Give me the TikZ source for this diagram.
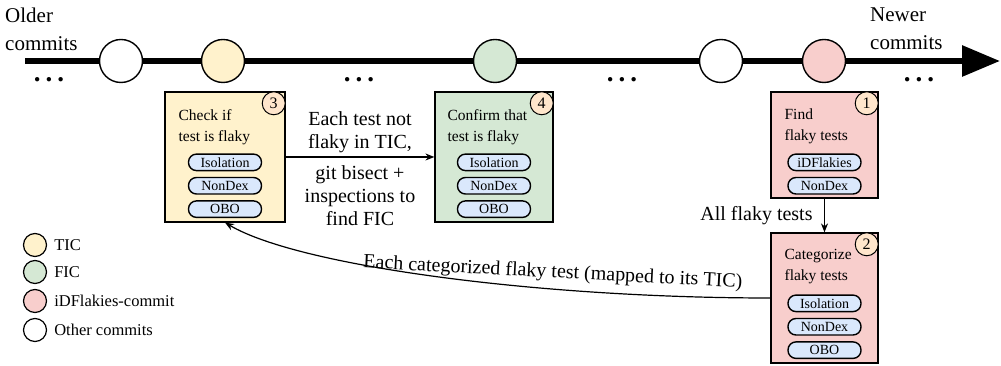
\documentclass[tikz,border=0pt]{standalone}
\usepackage{fontspec}
\setmainfont{Liberation Serif}
\usetikzlibrary{positioning}
\usetikzlibrary{arrows.meta}

\definecolor{ticfill}{HTML}{FFF2CC}
\definecolor{ficfill}{HTML}{D5E8D4}
\definecolor{idffill}{HTML}{F8CECC}
\definecolor{toolfill}{HTML}{DAE8FC}
\definecolor{numfill}{HTML}{FFE6CC}

\begin{document}
\begin{tikzpicture}[x=1pt,y=1pt]
\tikzstyle{commit}=[circle,draw=black,line width=1.4pt,minimum size=43pt,inner sep=0pt]
\tikzstyle{stepbox}=[rectangle,draw=black,line width=1.2pt,inner sep=0pt]
\tikzstyle{steptext}=[inner sep=0pt,align=left,font=\fontsize{15.5}{21}\selectfont]
\tikzstyle{tool}=[rectangle,rounded corners=8pt,draw=black,line width=1.4pt,fill=toolfill,minimum width=73pt,minimum height=16.5pt,inner sep=0pt,font=\fontsize{14}{14}\selectfont]
\tikzstyle{badge}=[circle,draw=black,line width=1pt,fill=numfill,minimum size=23pt,inner sep=0pt,font=\fontsize{16}{16}\selectfont]
\tikzstyle{flow}=[line width=1.2pt,-{Stealth[length=9pt,width=7pt]}]
\tikzstyle{biglabel}=[align=center,font=\fontsize{20}{23}\selectfont]
\tikzstyle{legend}=[circle,draw=black,line width=1.2pt,minimum size=23pt,inner sep=0pt]
\tikzstyle{legendtext}=[inner sep=7pt,font=\fontsize{16.5}{16.5}\selectfont]
\tikzstyle{dots}=[inner sep=0pt,font=\fontsize{27}{27}\selectfont\bfseries]

\useasboundingbox (0,0) rectangle (1001,366);
%%%%%%%%%%%%%%%%%%%%%%%%%%%%%%%%%%%%%%%%%%%%%%%%%%%%%%%%%%%%%%%%%%%%%%%%%%%%%%%%%%%%%%%%
%% Draw commit history
%%%%%%%%%%%%%%%%%%%%%%%%%%%%%%%%%%%%%%%%%%%%%%%%%%%%%%%%%%%%%%%%%%%%%%%%%%%%%%%%%%%%%%%%
% time line
\coordinate (tstart) at (25,305);
\coordinate (tend) at (1000,305);
\draw[line width=6pt,-{Triangle[length=38pt,width=30pt]}] (tstart) -- (tend);

\node[anchor=north west,align=left,inner sep=0pt,font=\fontsize{21}{28}\selectfont] (older) at (5,358) {Older\\commits};
\node[anchor=north west,align=left,inner sep=0pt,font=\fontsize{21}{28}\selectfont] (newer) at (870,358) {Newer\\commits};

% commits
\node[commit,fill=white] (oth1) at (121,305) {};
\node[commit,fill=ticfill] (ticc) at (223,305) {};
\node[commit,fill=ficfill] (ficc) at (495,305) {};
\node[commit,fill=white] (oth2) at (721,305) {};
\node[commit,fill=idffill] (idfc) at (824,305) {};

\node[dots] (dots1) at (49,286) {.\kern5pt.\kern5pt.};
\node[dots] (dots2) at (359,286) {.\kern5pt.\kern5pt.};
\node[dots] (dots3) at (622,286) {.\kern5pt.\kern5pt.};
\node[dots] (dots4) at (919,286) {.\kern5pt.\kern5pt.};
%%%%%%%%%%%%%%%%%%%%%%%%%%%%%%%%%%%%%%%%%%%%%%%%%%%%%%%%%%%%%%%%%%%%%%%%%%%%%%%%%%%%%%%%

%%%%%%%%%%%%%%%%%%%%%%%%%%%%%%%%%%%%%%%%%%%%%%%%%%%%%%%%%%%%%%%%%%%%%%%%%%%%%%%%%%%%%%%%
%% Draw step boxes
%%%%%%%%%%%%%%%%%%%%%%%%%%%%%%%%%%%%%%%%%%%%%%%%%%%%%%%%%%%%%%%%%%%%%%%%%%%%%%%%%%%%%%%%
% step 3
\node[stepbox,fill=ticfill,minimum width=120pt,minimum height=130pt] (tic) at (225,209) {};
\node[badge,below left=3.4pt and 3.4pt of tic.north east] (tic-n) {3};
\node[steptext,below right=17.5pt and 14pt of tic.north west] (tic-t) {Check if\\test is flaky};
\node[tool,below=62pt of tic.north] (tic-iso) {Isolation};
\node[tool,below=5.5pt of tic-iso] (tic-nd) {NonDex};
\node[tool,below=5.5pt of tic-nd] (tic-obo) {OBO};

% step 4
\node[stepbox,fill=ficfill,minimum width=118pt,minimum height=130pt] (fic) at (494,209) {};
\node[badge,below left=3.4pt and 3.4pt of fic.north east] (fic-n) {4};
\node[steptext,below right=17.5pt and 13pt of fic.north west] (fic-t) {Confirm that\\test is flaky};
\node[tool,below=62pt of fic.north] (fic-iso) {Isolation};
\node[tool,below=5.5pt of fic-iso] (fic-nd) {NonDex};
\node[tool,below=5.5pt of fic-nd] (fic-obo) {OBO};

% step 1
\node[stepbox,fill=idffill,minimum width=107pt,minimum height=106pt] (find) at (824.5,221) {};
\node[badge,below left=3.4pt and 3.4pt of find.north east] (find-n) {1};
\node[steptext,below right=17.5pt and 14pt of find.north west] (find-t) {Find\\flaky tests};
\node[tool,below=62pt of find.north] (find-idf) {iDFlakies};
\node[tool,below=5.5pt of find-idf] (find-nd) {NonDex};

% step 2
\node[stepbox,fill=idffill,minimum width=107pt,minimum height=130pt] (cat) at (824.5,68) {};
\node[badge,below left=3.4pt and 3.4pt of cat.north east] (cat-n) {2};
\node[steptext,below right=16.5pt and 14pt of cat.north west] (cat-t) {Categorize\\flaky tests};
\node[tool,below=62pt of cat.north] (cat-iso) {Isolation};
\node[tool,below=5.5pt of cat-iso] (cat-nd) {NonDex};
\node[tool,below=5.5pt of cat-nd] (cat-obo) {OBO};
%%%%%%%%%%%%%%%%%%%%%%%%%%%%%%%%%%%%%%%%%%%%%%%%%%%%%%%%%%%%%%%%%%%%%%%%%%%%%%%%%%%%%%%%

%%%%%%%%%%%%%%%%%%%%%%%%%%%%%%%%%%%%%%%%%%%%%%%%%%%%%%%%%%%%%%%%%%%%%%%%%%%%%%%%%%%%%%%%
%%% Draw connections
%%%%%%%%%%%%%%%%%%%%%%%%%%%%%%%%%%%%%%%%%%%%%%%%%%%%%%%%%%%%%%%%%%%%%%%%%%%%%%%%%%%%%%%%
\draw[flow] (find) -- node[biglabel,left=8pt] {All flaky tests} (cat);
\draw[flow] (tic) -- node[biglabel,above] {Each test not\\flaky in TIC,} node[biglabel,below=5pt] {git bisect +\\inspections to\\find FIC} (fic);
\draw[flow] (cat.west) .. controls +(-230,0) and +(75,-44) .. node[biglabel,pos=0.32,rotate=-3,above=3pt] {Each categorized flaky test (mapped to its TIC)} (tic.south);
%%%%%%%%%%%%%%%%%%%%%%%%%%%%%%%%%%%%%%%%%%%%%%%%%%%%%%%%%%%%%%%%%%%%%%%%%%%%%%%%%%%%%%%%

% legend
\node[legend,fill=ticfill,label={[legendtext]right:TIC}] (lg-tic) at (35,121) {};
\node[legend,fill=ficfill,label={[legendtext]right:FIC}] (lg-fic) at (35,94) {};
\node[legend,fill=idffill,label={[legendtext]right:iDFlakies-commit}] (lg-idf) at (35,65) {};
\node[legend,fill=white,label={[legendtext]right:Other commits}] (lg-oth) at (35,36) {};

\end{tikzpicture}
\end{document}
